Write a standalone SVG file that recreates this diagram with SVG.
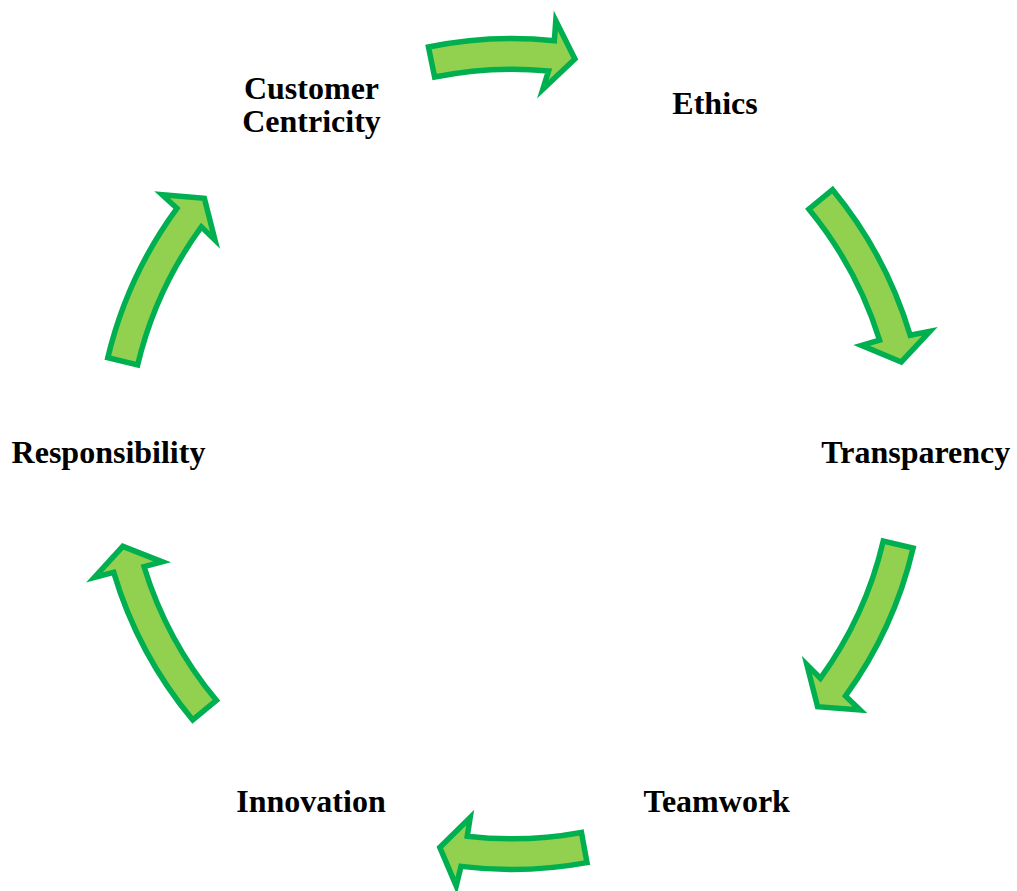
<svg xmlns="http://www.w3.org/2000/svg" width="1017" height="891" viewBox="0 0 1017 891">
  <style>
    .arrow { fill: #92D050; stroke: #00B050; stroke-width: 5.5; stroke-linejoin: miter; stroke-miterlimit: 10; }
    .label { font-family: "Liberation Serif", "Times New Roman", serif; font-weight: bold; font-size: 32px; fill: #000000; text-anchor: middle; }
  </style>
  <rect width="1017" height="891" fill="#FFFFFF"/>

  <!-- curved connectors arranged clockwise around the cycle -->
  <g id="connectors">
    <path id="arrow-customer-ethics" class="arrow" d="M 428.45 46.98 A 415.5 415.5 0 0 1 554.35 40.66 L 555.78 20.71 L 574.92 58.98 L 542.82 89.30 L 548.54 70.94 A 384.8 384.8 0 0 0 434.62 77.06 Z"/>
    <path id="arrow-ethics-transparency" class="arrow" d="M 832.61 189.71 A 415.5 415.5 0 0 1 910.18 335.30 L 929.87 331.33 L 901.27 361.98 L 861.50 345.35 L 879.53 340.03 A 384.8 384.8 0 0 0 808.92 209.24 Z"/>
    <path id="arrow-transparency-teamwork" class="arrow" d="M 913.11 548.08 A 412 412 0 0 1 845.53 695.88 L 860.03 709.93 L 817.59 706.63 L 806.90 664.81 L 820.36 678.28 A 381.3 381.3 0 0 0 883.23 541.07 Z"/>
    <path id="arrow-teamwork-innovation" class="arrow" d="M 587.01 862.67 A 415.5 415.5 0 0 1 461.00 866.36 L 456.21 885.91 L 439.79 847.43 L 470.19 817.60 L 467.30 836.19 A 384.8 384.8 0 0 0 581.46 832.48 Z"/>
    <path id="arrow-innovation-responsibility" class="arrow" d="M 192.78 719.97 A 415.5 415.5 0 0 1 113.71 572.36 L 94.37 577.47 L 122.81 546.36 L 162.26 561.86 L 144.08 566.70 A 384.8 384.8 0 0 0 216.37 700.31 Z"/>
    <path id="arrow-responsibility-customer" class="arrow" d="M 107.81 357.71 A 415.5 415.5 0 0 1 176.92 208.31 L 162.06 194.77 L 204.39 198.31 L 215.00 240.12 L 201.37 226.90 A 384.8 384.8 0 0 0 137.67 364.82 Z"/>
  </g>

  <!-- value nodes -->
  <g id="node-customer-centricity">
    <text class="label" x="311.5" y="98.5">Customer</text>
    <text class="label" x="311.5" y="131.5">Centricity</text>
  </g>
  <g id="node-ethics">
    <text class="label" x="715" y="114.3">Ethics</text>
  </g>
  <g id="node-transparency">
    <text class="label" x="915.8" y="462.7">Transparency</text>
  </g>
  <g id="node-teamwork">
    <text class="label" x="716.7" y="812.3">Teamwork</text>
  </g>
  <g id="node-innovation">
    <text class="label" x="311" y="812.3">Innovation</text>
  </g>
  <g id="node-responsibility">
    <text class="label" x="108.5" y="462.7">Responsibility</text>
  </g>
</svg>
